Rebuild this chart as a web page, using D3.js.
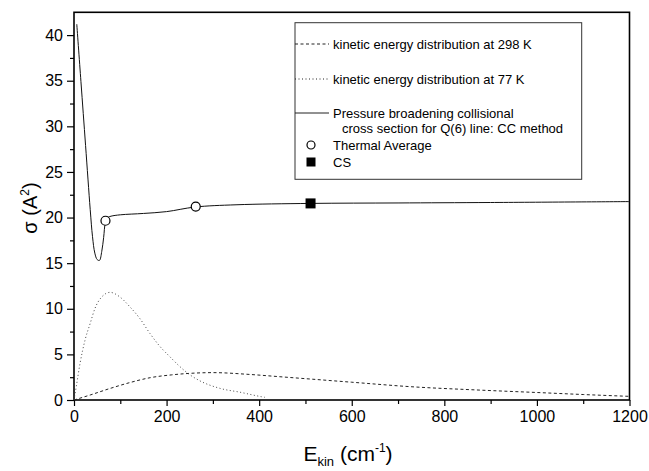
<!DOCTYPE html>
<html lang="en">
<head>
  <meta charset="UTF-8">
  <title>Cross section</title>
  <style>
    body { margin: 0; background: #fff; }
    svg text { font-family: "Liberation Sans", Arial, sans-serif; fill: #000; }
    .tick text { font-size: 16px; }
    .legenda { font-size: 13px; }
  </style>
</head>
<body>
  <svg id="grafico"></svg>

  <script src="https://d3js.org/d3.v7.min.js"></script>
  <script>
    // cross section, CC method: [E, sigma]
    const ccE     = [6, 15, 25, 35, 40, 45, 50, 55, 60, 64, 68, 73, 80, 100, 150, 200, 261, 350, 511, 700, 900, 1200];
    const ccSigma = [41.2, 34.9, 27.9, 20.9, 17.9, 16.1, 15.4, 15.3, 16.3, 17.8, 19.5, 20.0, 20.15, 20.3, 20.45, 20.65, 21.15, 21.4, 21.55, 21.6, 21.65, 21.75];
    // kinetic energy distribution at 298 K
    const k298E   = [0, 35, 80, 120, 165, 210, 250, 300, 380, 445, 510, 600, 730, 870, 1010, 1100, 1200];
    const k298Val = [0, 0.55, 1.3, 1.9, 2.45, 2.75, 2.92, 3.0, 2.8, 2.55, 2.3, 1.95, 1.45, 1.1, 0.8, 0.6, 0.4];
    // kinetic energy distribution at 77 K
    const k77E    = [0, 5, 13, 24, 35, 45, 60, 78, 99, 121, 142, 164, 186, 207, 229, 251, 272, 315, 359, 405, 412];
    const k77Val  = [0, 1.5, 4, 6.6, 8.4, 10.0, 11.3, 11.8, 11.3, 10.2, 8.95, 7.3, 5.85, 4.75, 3.65, 2.74, 2.1, 1.28, 0.85, 0.36, 0.3];
    // thermal averages and CS point
    const thermE  = [68, 263];
    const thermS  = [19.65, 21.2];
    const csE     = [511];
    const csS     = [21.55];

    const xTicks = [0, 200, 400, 600, 800, 1000, 1200];
    const yTicks = [0, 5, 10, 15, 20, 25, 30, 35, 40];

    function executa() {
      const largura = 649, altura = 471;
      const m = { esq: 74, dir: 629.5, topo: 12.3, base: 400 };
      const svg = d3.select('#grafico').attr('width', largura).attr('height', altura);

      const x = d3.scaleLinear().domain([0, 1200]).range([m.esq, m.dir]);
      const y = d3.scaleLinear().domain([0, 42.5]).range([m.base, m.topo]);

      // minor ticks
      svg.append('g').attr('transform', `translate(0,${m.base})`)
        .call(d3.axisBottom(x).tickValues(d3.range(100, 1200, 200)).tickSize(4).tickFormat(''))
        .call(g => g.select('.domain').remove());
      svg.append('g').attr('transform', `translate(${m.esq},0)`)
        .call(d3.axisLeft(y).tickValues(d3.range(2.5, 42.5, 5)).tickSize(4).tickFormat(''))
        .call(g => g.select('.domain').remove());

      // major ticks
      svg.append('g').attr('transform', `translate(0,${m.base})`)
        .call(d3.axisBottom(x).tickValues(xTicks).tickFormat(d3.format('d')).tickSize(6).tickSizeOuter(0).tickPadding(5))
        .call(g => g.select('.domain').remove());
      svg.append('g').attr('transform', `translate(${m.esq},0)`)
        .call(d3.axisLeft(y).tickValues(yTicks).tickFormat(d3.format('d')).tickSize(7).tickSizeOuter(0).tickPadding(4))
        .call(g => g.select('.domain').remove());

      svg.selectAll('.tick line').attr('stroke', '#000').attr('stroke-width', 1.2);

      // frame
      svg.append('rect')
        .attr('x', m.esq).attr('y', m.topo)
        .attr('width', m.dir - m.esq).attr('height', m.base - m.topo)
        .attr('fill', 'none').attr('stroke', '#000').attr('stroke-width', 1.6);

      const linha = d3.line().x(d => x(d[0])).y(d => y(d[1])).curve(d3.curveMonotoneX);

      svg.append('path').datum(d3.zip(k298E, k298Val))
        .attr('d', linha).attr('fill', 'none')
        .attr('stroke', '#222').attr('stroke-width', 1).attr('stroke-dasharray', '3,2.5');

      svg.append('path').datum(d3.zip(k77E, k77Val))
        .attr('d', linha).attr('fill', 'none')
        .attr('stroke', '#444').attr('stroke-width', 1).attr('stroke-dasharray', '1,2.5');

      svg.append('path').datum(d3.zip(ccE, ccSigma))
        .attr('d', d3.line().x(d => x(d[0])).y(d => y(d[1])).curve(d3.curveCatmullRom))
        .attr('fill', 'none').attr('stroke', '#111').attr('stroke-width', 1);

      svg.selectAll('.termico')
        .data(d3.zip(thermE, thermS))
        .enter()
        .append('circle')
        .classed('termico', true)
        .attr('cx', d => x(d[0])).attr('cy', d => y(d[1])).attr('r', 4.5)
        .attr('fill', '#fff').attr('stroke', '#000').attr('stroke-width', 1.2);

      svg.selectAll('.cs')
        .data(d3.zip(csE, csS))
        .enter()
        .append('rect')
        .classed('cs', true)
        .attr('x', d => x(d[0]) - 5).attr('y', d => y(d[1]) - 5)
        .attr('width', 10).attr('height', 10).attr('fill', '#000');

      // legend
      const leg = svg.append('g');
      leg.append('rect').attr('x', 295).attr('y', 22.7).attr('width', 286.7).attr('height', 156.6)
        .attr('fill', '#fff').attr('stroke', '#333').attr('stroke-width', 1);
      const amostra = [
        { y: 44, dash: '3,2.5', txt: 'kinetic energy distribution at 298 K' },
        { y: 79, dash: '1,2.5', txt: 'kinetic energy distribution at 77 K' },
        { y: 113, dash: null, txt: 'Pressure broadening collisional' }
      ];
      amostra.forEach(a => {
        leg.append('line').attr('x1', 295).attr('x2', 329).attr('y1', a.y).attr('y2', a.y)
          .attr('stroke', '#222').attr('stroke-width', 1).attr('stroke-dasharray', a.dash);
        leg.append('text').classed('legenda', true).attr('x', 333).attr('y', a.y).attr('dy', '0.35em').text(a.txt);
      });
      leg.append('text').classed('legenda', true).attr('x', 342).attr('y', 128).attr('dy', '0.35em')
        .text('cross section for Q(6) line: CC method');
      leg.append('circle').attr('cx', 311).attr('cy', 145).attr('r', 4)
        .attr('fill', '#fff').attr('stroke', '#000').attr('stroke-width', 1.2);
      leg.append('text').classed('legenda', true).attr('x', 333).attr('y', 145).attr('dy', '0.35em').text('Thermal Average');
      leg.append('rect').attr('x', 306.5).attr('y', 157.5).attr('width', 9).attr('height', 9).attr('fill', '#000');
      leg.append('text').classed('legenda', true).attr('x', 333).attr('y', 162).attr('dy', '0.35em').text('CS');

      // axis titles
      const tx = svg.append('text').attr('x', 348).attr('y', 461).attr('text-anchor', 'middle')
        .style('font-size', '21px');
      tx.append('tspan').text('E');
      tx.append('tspan').attr('dy', 5).style('font-size', '13px').text('kin');
      tx.append('tspan').attr('dy', -5).text(' (cm');
      tx.append('tspan').attr('dy', -9).style('font-size', '12px').text('-1');
      tx.append('tspan').attr('dy', 9).text(')');

      const ty = svg.append('text').attr('transform', 'translate(37,208) rotate(-90)')
        .attr('text-anchor', 'middle').style('font-size', '20px');
      ty.append('tspan').text('σ (A');
      ty.append('tspan').attr('dy', -8).style('font-size', '12px').text('2');
      ty.append('tspan').attr('dy', 8).text(')');
    }

    executa();
  </script>
</body>
</html>
